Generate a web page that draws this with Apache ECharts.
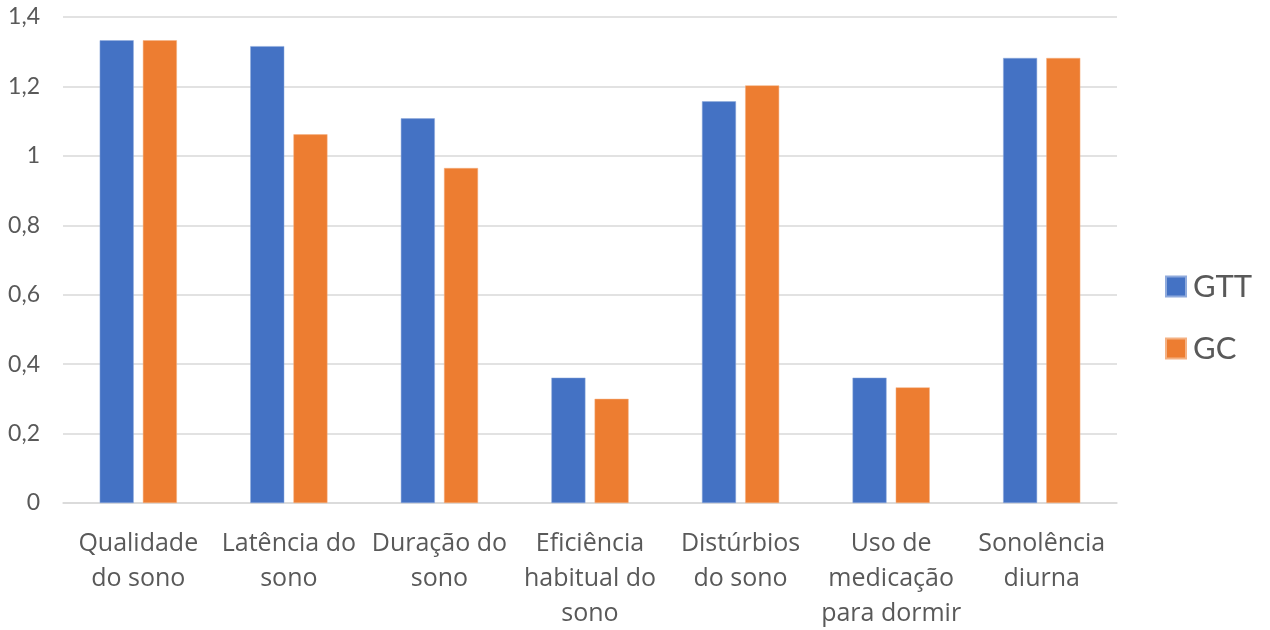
<!DOCTYPE html>
<html>
<head>
<meta charset="utf-8">
<script src="https://cdn.jsdelivr.net/npm/echarts@6/dist/echarts.min.js"></script>
<style>
  html, body { margin: 0; padding: 0; background: #fff; }
  #chart-container { width: 1270px; height: 630px; }
</style>
</head>
<body>
<div id="chart-container"></div>
<script>
const categories = [
  "Qualidade\ndo sono",
  "Latência do\nsono",
  "Duração do\nsono",
  "Eficiência\nhabitual do\nsono",
  "Distúrbios\ndo sono",
  "Uso de\nmedicação\npara dormir",
  "Sonolência\ndiurna",
];
const gtt = [1.333, 1.316, 1.108, 0.361, 1.157, 0.361, 1.282];
const gc = [1.333, 1.062, 0.965, 0.3, 1.203, 0.333, 1.282];
const seriesNames = ["GTT", "GC"];
const yTicks = { min: 0, max: 1.4, interval: 0.2 };

const labelFont = "'Open Sans', Lato, sans-serif";

let option = {
  animation: false,
  grid: {
    left: 63,
    right: 153,
    top: 17,
    bottom: 127,
    outerBoundsMode: "none",
  },
  legend: {
    orient: "vertical",
    left: 1165,
    top: 271,
    padding: 0,
    itemWidth: 20,
    itemHeight: 20,
    itemGap: 31,
    icon: "rect",
    textStyle: {
      fontFamily: "Lato, sans-serif",
      fontSize: 31,
      color: "#595959",
      padding: [0, 0, 0, 2],
    },
    data: seriesNames,
  },
  xAxis: {
    type: "category",
    data: categories,
    axisTick: { show: false },
    axisLine: {
      lineStyle: { color: "#D9D9D9", width: 1.5 },
    },
    axisLabel: {
      interval: 0,
      margin: 23,
      fontFamily: labelFont,
      fontSize: 25,
      lineHeight: 35,
      color: "#595959",
    },
  },
  yAxis: {
    type: "value",
    min: yTicks.min,
    max: yTicks.max,
    interval: yTicks.interval,
    axisLine: { show: false },
    axisTick: { show: false },
    splitLine: {
      lineStyle: { color: "#D9D9D9", width: 1.5 },
    },
    axisLabel: {
      margin: 23,
      fontFamily: "Lato, sans-serif",
      fontSize: 23,
      color: "#595959",
      formatter: (v) => String(Math.round(v * 10) / 10).replace(".", ","),
    },
  },
  series: [
    {
      name: seriesNames[0],
      type: "bar",
      data: gtt,
      barWidth: 34,
      barGap: "27%",
      itemStyle: { color: "#4472C4", borderColor: "#8FAADC", borderWidth: 0.5 },
    },
    {
      name: seriesNames[1],
      type: "bar",
      data: gc,
      barWidth: 34,
      itemStyle: { color: "#ED7D31", borderColor: "#F4B183", borderWidth: 0.5 },
    },
  ],
};

let dom = document.getElementById("chart-container");
let myChart = echarts.init(dom, null, { renderer: "canvas" });
myChart.setOption(option);
window.addEventListener("resize", () => myChart.resize());
</script>
</body>
</html>
